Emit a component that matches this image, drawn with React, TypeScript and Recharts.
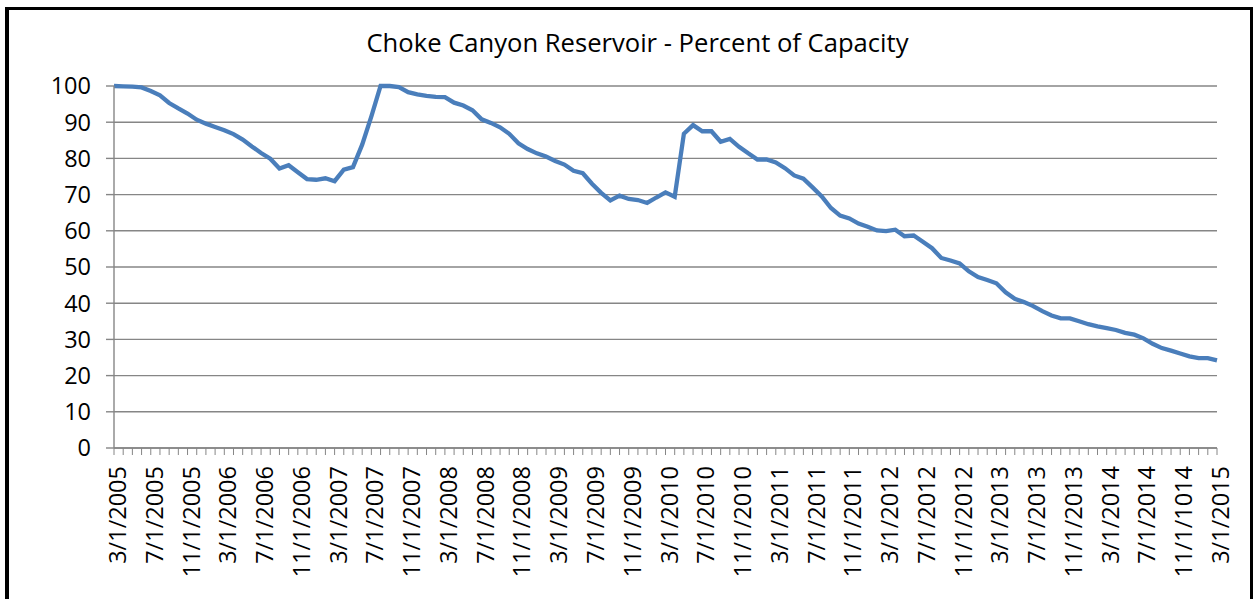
import React from 'react';
import { LineChart, Line, XAxis, YAxis, CartesianGrid } from 'recharts';

// Tick labels shown every 4 months (as printed on the original, including its typo)
const tickLabels: string[] = [
  '3/1/2005', '7/1/2005', '11/1/2005',
  '3/1/2006', '7/1/2006', '11/1/2006',
  '3/1/2007', '7/1/2007', '11/1/2007',
  '3/1/2008', '7/1/2008', '11/1/2008',
  '3/1/2009', '7/1/2009', '11/1/2009',
  '3/1/2010', '7/1/2010', '11/1/2010',
  '3/1/2011', '7/1/2011', '11/1/2011',
  '3/1/2012', '7/1/2012', '11/1/2012',
  '3/1/2013', '7/1/2013', '11/1/2013',
  '3/1/2014', '7/1/2014', '11/1/1014',
  '3/1/2015',
];

// Monthly percent of capacity, Mar 2005 .. Mar 2015
const pct2005: number[] = [100, 99.9, 99.8, 99.6, 98.6, 97.4, 95.3, 93.8, 92.4, 90.7];
const pct2006: number[] = [89.6, 88.7, 87.8, 86.7, 85.2, 83.3, 81.5, 79.9, 77.2, 78.1, 76.2, 74.3];
const pct2007: number[] = [74.1, 74.5, 73.7, 76.9, 77.6, 83.8, 91.6, 100, 100, 99.7, 98.3, 97.7];
const pct2008: number[] = [97.3, 97.0, 96.9, 95.4, 94.6, 93.3, 90.8, 89.8, 88.6, 86.8, 84.2, 82.6];
const pct2009: number[] = [81.4, 80.5, 79.3, 78.3, 76.6, 75.9, 73.0, 70.5, 68.4, 69.7, 68.8, 68.5];
const pct2010: number[] = [67.7, 69.2, 70.6, 69.4, 86.8, 89.2, 87.5, 87.5, 84.6, 85.4, 83.2, 81.4];
const pct2011: number[] = [79.7, 79.7, 78.9, 77.3, 75.3, 74.4, 72.0, 69.5, 66.3, 64.2, 63.4, 62.0];
const pct2012: number[] = [61.1, 60.1, 59.9, 60.3, 58.5, 58.7, 57.0, 55.2, 52.5, 51.8, 51.0, 48.8];
const pct2013: number[] = [47.2, 46.4, 45.5, 43.0, 41.2, 40.3, 39.2, 37.8, 36.6, 35.8, 35.8, 35.0];
const pct2014: number[] = [34.2, 33.6, 33.1, 32.6, 31.8, 31.3, 30.3, 28.8, 27.6, 26.9, 26.1, 25.3];
const pct2015: number[] = [24.8, 24.8, 24.2];

const values: number[] = [
  ...pct2005, ...pct2006, ...pct2007, ...pct2008, ...pct2009, ...pct2010,
  ...pct2011, ...pct2012, ...pct2013, ...pct2014, ...pct2015,
];

const yTicks: number[] = [0, 10, 20, 30, 40, 50, 60, 70, 80, 90, 100];

const data = values.map((v, i) => {
  const m0 = 2 + i; // March 2005 = month index 2
  const year = 2005 + Math.floor(m0 / 12);
  const month = (m0 % 12) + 1;
  return { date: `${month}/1/${year}`, idx: i, pct: v };
});

const FONT = "'Open Sans', sans-serif";
const GRAY = '#868686';

const XTick = (props: any) => {
  const { x, y, index } = props;
  if (index % 4 !== 0) return <g />;
  const label = tickLabels[index / 4];
  return (
    <g transform={`translate(${x},${y}) rotate(-90)`}>
      <text x={0} y={12} textAnchor="end" fontSize={23.5} fontFamily={FONT} fill="#000">
        {label}
      </text>
    </g>
  );
};

export default function App() {
  return (
    <div style={{ position: 'absolute', left: 0, top: 0, width: 1255, height: 599, background: '#fff', overflow: 'hidden' }}>
      <div
        style={{
          position: 'absolute', left: 5, top: 7, width: 1248, height: 592,
          boxSizing: 'border-box', borderLeft: '4px solid #000', borderTop: '3px solid #000',
          borderRight: '3px solid #000',
        }}
      />
      <div
        style={{
          position: 'absolute', left: 10, top: 30, width: 1255, textAlign: 'center',
          fontFamily: FONT, fontSize: 25.6, lineHeight: '26px', color: '#000',
        }}
      >
        Choke Canyon Reservoir - Percent of Capacity
      </div>
      <div style={{ position: 'absolute', left: 0, top: 0 }}>
        <LineChart width={1255} height={599} data={data} margin={{ top: 86, right: 38, left: 54, bottom: 11 }}>
          <CartesianGrid vertical={false} stroke={GRAY} strokeWidth={1.4} />
          <XAxis
            dataKey="date"
            interval={0}
            height={140}
            tickSize={7}
            tickMargin={11}
            axisLine={{ stroke: GRAY, strokeWidth: 1.4 }}
            tickLine={{ stroke: GRAY, strokeWidth: 1 }}
            tick={<XTick />}
          />
          <YAxis
            type="number"
            domain={[0, 100]}
            ticks={yTicks}
            interval={0}
            width={60}
            tickSize={8}
            tickMargin={15}
            axisLine={{ stroke: GRAY, strokeWidth: 1.4 }}
            tickLine={{ stroke: GRAY, strokeWidth: 1.4 }}
            tick={{ fontSize: 23.5, fontFamily: FONT, fill: '#000' }}
          />
          <Line
            type="linear"
            dataKey="pct"
            stroke="#4A7EBB"
            strokeWidth={4.3}
            dot={false}
            isAnimationActive={false}
          />
        </LineChart>
      </div>
    </div>
  );
}
